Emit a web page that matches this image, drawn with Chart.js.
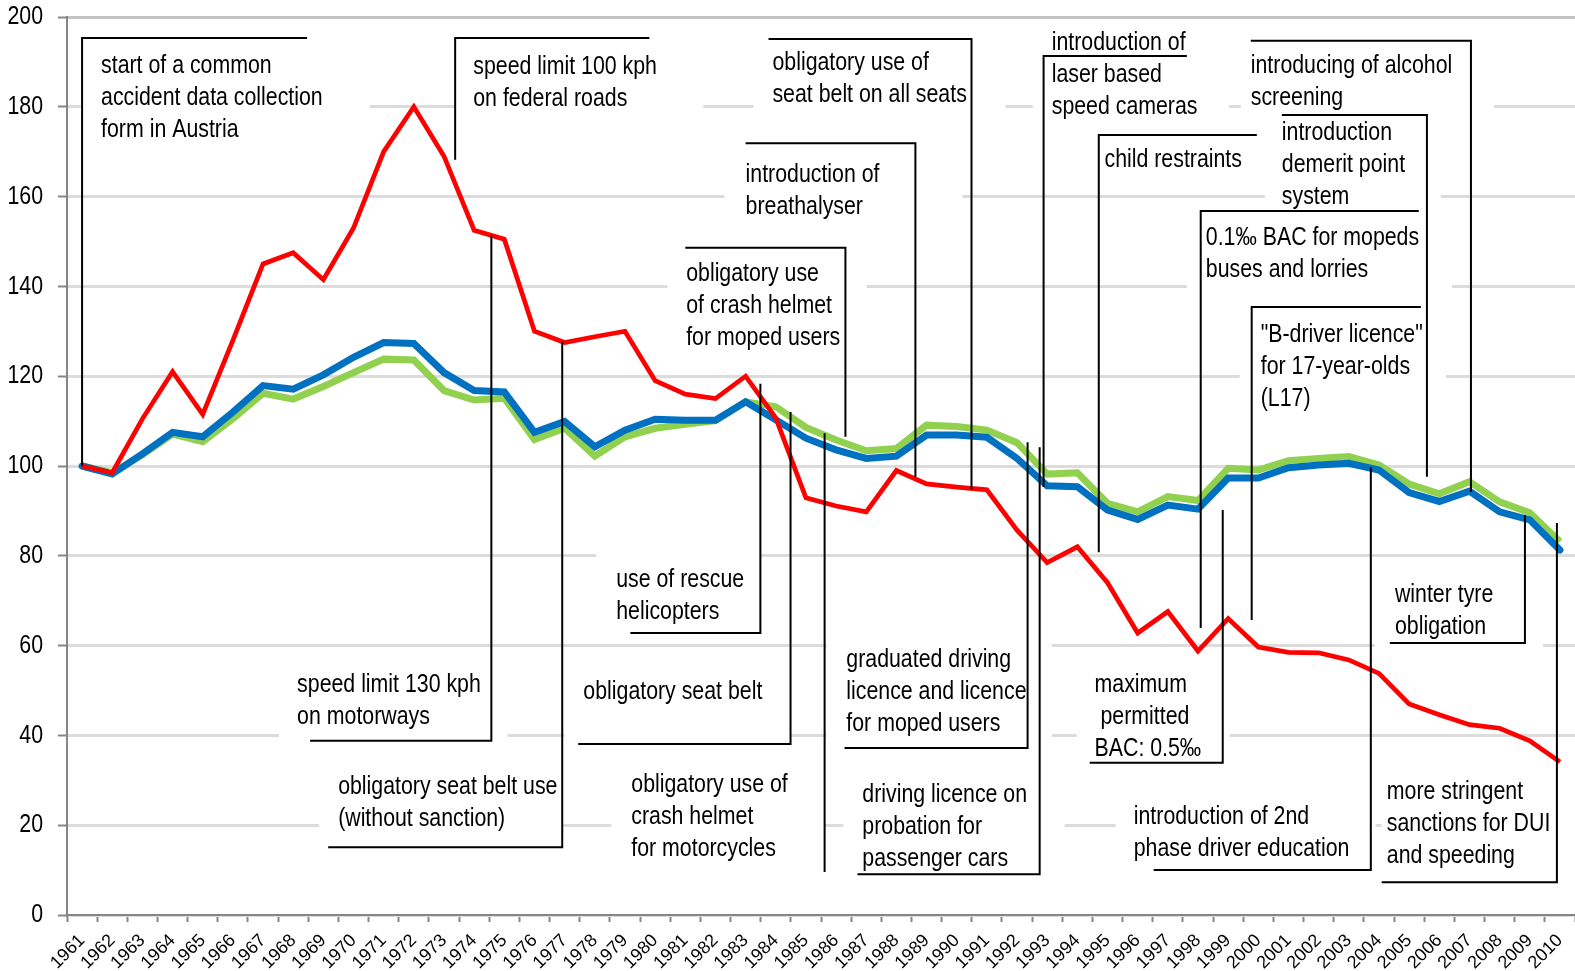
<!DOCTYPE html>
<html>
<head>
<meta charset="utf-8">
<title>Road safety measures in Austria 1961-2010</title>
<script src="https://cdn.jsdelivr.net/npm/chart.js@4.4.1/dist/chart.umd.min.js"></script>
<style>
  html, body { margin: 0; padding: 0; background: #fff; overflow: hidden; }
  #wrap { width: 1575px; height: 971px; }
</style>
</head>
<body>
<div id="wrap"><canvas id="chart" width="1575" height="971"></canvas></div>
<script>
// categories
const years = ['1961', '1962', '1963', '1964', '1965', '1966', '1967', '1968', '1969', '1970',
  '1971', '1972', '1973', '1974', '1975', '1976', '1977', '1978', '1979', '1980',
  '1981', '1982', '1983', '1984', '1985', '1986', '1987', '1988', '1989', '1990',
  '1991', '1992', '1993', '1994', '1995', '1996', '1997', '1998', '1999', '2000',
  '2001', '2002', '2003', '2004', '2005', '2006', '2007', '2008', '2009', '2010'];

// index values, 1961 = 100
const killed = [100, 98.5, 110.5, 121, 111.5, 128, 145, 147.5, 141.5, 153,
  170, 180, 169, 152.5, 150.5, 130, 127.5, 128.8, 130, 119,
  116, 115, 120, 110.7, 92.9, 91.1, 89.8, 99, 96, 95.3,
  94.7, 85.7, 78.5, 82, 74, 62.8, 67.6, 58.8, 66, 59.7,
  58.5, 58.4, 56.8, 53.8, 47, 44.6, 42.4, 41.6, 38.8, 34.1];

const accidents = [100, 98.2, 102.7, 107.5, 106.5, 112, 117.9, 117.1, 120.3, 124.2,
  127.5, 127.3, 120.8, 116.8, 116.5, 107.5, 109.9, 104.3, 108, 110.4,
  110.2, 110.2, 114.3, 110.3, 106.2, 103.6, 101.7, 102.2, 106.9, 106.9,
  106.4, 101.7, 95.6, 95.4, 90.2, 88.1, 91.3, 90.4, 97.3, 97.3,
  99.6, 100.2, 100.6, 99.1, 94.1, 92.1, 94.4, 89.8, 88.0, 81.3];

const injured = [100, 98.5, 102.5, 107.1, 105.4, 110.5, 116.2, 114.9, 117.7, 120.8,
  123.8, 123.6, 116.8, 114.7, 115.1, 105.9, 108.4, 102.2, 106.5, 108.4,
  109.3, 110.1, 114.3, 113.2, 108.6, 105.8, 103.4, 103.9, 109.1, 108.8,
  108, 105.2, 98.2, 98.5, 91.7, 89.8, 93.2, 92.3, 99.5, 99.1,
  101.2, 101.7, 102.1, 100.2, 96, 93.8, 96.5, 92, 89.6, 83.1];

const yTicks = [0, 20, 40, 60, 80, 100, 120, 140, 160, 180, 200];

// measures: text anchor, white box and leader line, all in (year, index value)
const measures = [
  { lines: ['start of a common', 'accident data collection', 'form in Austria'],
    text: [1961.63, 189.1], box: [1960.95, 1970.55, 195.3, 170.4],
    path: [[1961, 100], [1961, 195.3], [1968.46, 195.3]] },
  { lines: ['speed limit 100 kph', 'on federal roads'],
    text: [1973.97, 188.9], box: [1973.37, 1981.6, 195.3, 177.1],
    path: [[1973.37, 168.2], [1973.37, 195.3], [1979.81, 195.3]] },
  { lines: ['obligatory use of', 'seat belt on all seats'],
    text: [1983.89, 189.8], box: [1983.26, 1991.62, 195.1, 173.7],
    path: [[1983.76, 195.1], [1990.49, 195.1], [1990.49, 94.7]] },
  { lines: ['introduction of', 'breathalyser'],
    text: [1983.0, 164.8], box: [1982.3, 1990.19, 171.9, 153.7],
    path: [[1983.0, 171.9], [1988.63, 171.9], [1988.63, 97.6]] },
  { lines: ['obligatory use', 'of crash helmet', 'for moped users'],
    text: [1981.03, 142.8], box: [1980.41, 1987.01, 148.6, 125.8],
    path: [[1981.0, 148.6], [1986.31, 148.6], [1986.31, 106.5]] },
  { lines: ['use of rescue', 'helicopters'],
    text: [1978.71, 74.6], box: [1978.05, 1983.49, 81.7, 62.8],
    path: [[1979.18, 62.8], [1983.49, 62.8], [1983.49, 118.3]] },
  { lines: ['obligatory seat belt'],
    text: [1977.62, 49.7], box: [1976.99, 1984.49, 56.8, 38.1],
    path: [[1977.45, 38.1], [1984.49, 38.1], [1984.49, 112.0]] },
  { lines: ['obligatory use of', 'crash helmet', 'for motorcycles'],
    text: [1979.21, 29.0], box: [1978.55, 1985.62, 34.5, 7.8],
    path: [[1985.62, 107.3], [1985.62, 9.6]] },
  { lines: ['graduated driving', 'licence and licence', 'for moped users'],
    text: [1986.34, 56.8], box: [1985.68, 1993.15, 61.2, 37.2],
    path: [[1986.28, 37.2], [1992.35, 37.2], [1992.35, 105.3]] },
  { lines: ['driving licence on', 'probation for', 'passenger cars'],
    text: [1986.87, 26.7], box: [1986.24, 1993.58, 32.3, 9.1],
    path: [[1986.71, 9.1], [1992.75, 9.1], [1992.75, 104.2]] },
  { lines: ['introduction of', 'laser based', 'speed cameras'],
    text: [1993.15, 194.2], box: [1992.52, 1999.02, 198.2, 175.9],
    path: [[1997.63, 191.3], [1992.88, 191.3], [1992.88, 95.3]] },
  { lines: ['child restraints'],
    text: [1994.9, 168.3], box: [1994.71, 1999.95, 173.7, 163.1],
    path: [[1999.95, 173.7], [1994.71, 173.7], [1994.71, 80.8]] },
  { lines: ['introducing of alcohol', 'screening'],
    text: [1999.75, 189.1], box: [1999.42, 2007.81, 197.1, 177.1],
    path: [[1999.75, 194.7], [2007.05, 194.7], [2007.05, 94.2]] },
  { lines: ['introduction', 'demerit point', 'system'],
    text: [2000.78, 174.2], box: [2000.22, 2006.05, 178.2, 157.0],
    path: [[2000.78, 178.2], [2005.59, 178.2], [2005.59, 97.6]] },
  { lines: ['0.1‰ BAC for mopeds', 'buses and lorries'],
    text: [1998.26, 150.8], box: [1997.63, 2006.42, 156.8, 137.0],
    path: [[2005.32, 156.8], [1998.09, 156.8], [1998.09, 63.9]] },
  { lines: ['"B-driver licence"', 'for 17-year-olds', '(L17)'],
    text: [2000.08, 129.2], box: [1999.38, 2006.22, 135.4, 112.5],
    path: [[2005.39, 135.4], [1999.78, 135.4], [1999.78, 65.7]] },
  { lines: ['winter tyre', 'obligation'],
    text: [2004.53, 71.3], box: [2003.86, 2009.44, 77.9, 57.0],
    path: [[2004.36, 60.6], [2008.84, 60.6], [2008.84, 89.1]] },
  { lines: ['maximum', ' permitted', 'BAC: 0.5‰'],
    text: [1994.57, 51.2], box: [1993.98, 1999.05, 57.9, 33.9],
    path: [[1994.41, 33.9], [1998.82, 33.9], [1998.82, 90.2]] },
  { lines: ['introduction of 2nd', 'phase driver education'],
    text: [1995.87, 21.8], box: [1995.27, 2003.89, 27.8, 10.0],
    path: [[1996.53, 10.0], [2003.73, 10.0], [2003.73, 99.8]] },
  { lines: ['more stringent', 'sanctions for DUI', 'and speeding'],
    text: [2004.26, 27.4], box: [2004.09, 2010.6, 33.4, 7.3],
    path: [[2004.09, 7.3], [2009.9, 7.3], [2009.9, 87.3]] },
  { lines: ['speed limit 130 kph', 'on motorways'],
    text: [1968.13, 51.2], box: [1967.53, 1975.1, 56.8, 38.8],
    path: [[1968.56, 38.8], [1974.57, 38.8], [1974.57, 151.4]] },
  { lines: ['obligatory seat belt use', '(without sanction)'],
    text: [1969.49, 28.5], box: [1968.86, 1976.92, 33.4, 15.1],
    path: [[1969.16, 15.1], [1976.92, 15.1], [1976.92, 127.6]] }
];

// no condensed face is installed: squeeze Liberation Sans horizontally instead
const FAMILY = '"Liberation Sans", Arial, sans-serif';
const SQUEEZE = 0.82;
const LINE_H = 32;

function narrowText(ctx, str, x, y) {
  ctx.save();
  ctx.translate(x, y);
  ctx.scale(SQUEEZE, 1);
  ctx.fillText(str, 0, 0);
  ctx.restore();
}

// year (may be fractional) -> pixel via the category scale
function xPix(scale, yr) {
  return scale.getPixelForValue(yr - Number(years[0]));
}

const measuresPlugin = {
  id: 'measures',
  beforeDatasetsDraw(chart) {
    const { ctx, chartArea: a, scales: { x, y } } = chart;
    ctx.save();
    ctx.beginPath();
    ctx.rect(a.left + 2, a.top + 2, a.right - a.left - 2, a.bottom - a.top - 3);
    ctx.clip();
    ctx.fillStyle = '#ffffff';
    measures.forEach(m => {
      const x0 = xPix(x, m.box[0]), x1 = xPix(x, m.box[1]);
      const y0 = y.getPixelForValue(m.box[2]), y1 = y.getPixelForValue(m.box[3]);
      ctx.fillRect(Math.min(x0, x1), Math.min(y0, y1), Math.abs(x1 - x0), Math.abs(y1 - y0));
    });
    ctx.restore();
  },
  afterDatasetsDraw(chart) {
    const { ctx, scales: { x, y } } = chart;
    ctx.save();
    // leader lines
    ctx.strokeStyle = '#000000';
    ctx.lineWidth = 2;
    measures.forEach(m => {
      ctx.beginPath();
      m.path.forEach((p, i) => {
        const px = xPix(x, p[0]), py = y.getPixelForValue(p[1]);
        if (i === 0) ctx.moveTo(px, py); else ctx.lineTo(px, py);
      });
      ctx.stroke();
    });
    // texts
    ctx.fillStyle = '#000000';
    ctx.textBaseline = 'middle';
    ctx.textAlign = 'left';
    ctx.font = '26px ' + FAMILY;
    measures.forEach(m => {
      const tx = xPix(x, m.text[0]), ty = y.getPixelForValue(m.text[1]);
      m.lines.forEach((line, i) => narrowText(ctx, line, tx, ty + i * LINE_H));
    });
    ctx.restore();
  },
  afterDraw(chart) {
    // y tick labels, condensed, at the positions of the scale's own ticks
    const { ctx, scales: { y } } = chart;
    ctx.save();
    ctx.fillStyle = '#000000';
    ctx.textBaseline = 'middle';
    ctx.textAlign = 'right';
    ctx.font = '26px ' + FAMILY;
    const right = y.right - y.options.grid.tickLength - 15;
    y.ticks.forEach((t, i) => {
      narrowText(ctx, String(t.label), right, y.getPixelForTick(i));
    });
    ctx.restore();
  }
};

const ctx = document.getElementById('chart').getContext('2d');
const chart = new Chart(ctx, {
  type: 'line',
  data: {
    labels: years,
    datasets: [
      {
        label: 'Killed',
        data: killed,
        borderColor: '#ff0000',
        borderWidth: 4.7,
        pointRadius: 0,
        tension: 0,
        fill: false
      },
      {
        label: 'Injury accidents',
        data: accidents,
        borderColor: '#0070c0',
        borderWidth: 7,
        borderCapStyle: 'round',
        pointRadius: 0,
        tension: 0,
        fill: false
      },
      {
        label: 'Injured',
        data: injured,
        borderColor: '#92d050',
        borderWidth: 7,
        pointRadius: 0,
        tension: 0,
        fill: false
      }
    ]
  },
  options: {
    responsive: false,
    animation: false,
    devicePixelRatio: 1,
    layout: { padding: { top: 17, right: 0, bottom: 0, left: 0 } },
    plugins: {
      legend: { display: false },
      tooltip: { enabled: false },
      title: { display: false }
    },
    scales: {
      x: {
        type: 'category',
        offset: true,
        grid: {
          offset: true,
          drawOnChartArea: false,
          drawTicks: true,
          tickLength: 7,
          tickColor: '#868686',
          tickWidth: 2
        },
        border: { color: '#868686', width: 2 },
        ticks: {
          autoSkip: false,
          minRotation: 45,
          maxRotation: 45,
          padding: 8,
          color: '#000000',
          font: { family: FAMILY, size: 18 }
        },
        afterFit(scale) {
          scale.height = 56;
          scale.paddingLeft = 0;
          scale.paddingRight = 0;
        }
      },
      y: {
        min: 0,
        max: 200,
        afterBuildTicks(scale) {
          scale.ticks = yTicks.map(v => ({ value: v }));
        },
        grid: {
          color: c => (c.tick && c.tick.value === 200 ? '#c4c4c4' : '#dcdcdc'),
          lineWidth: 3,
          tickLength: 9,
          tickColor: '#868686',
          tickWidth: 2
        },
        border: { color: '#868686', width: 2 },
        ticks: {
          display: false
        },
        afterFit(scale) {
          scale.width = 67;
          scale.paddingTop = 0;
          scale.paddingBottom = 0;
        }
      }
    }
  },
  plugins: [measuresPlugin]
});
</script>
</body>
</html>
